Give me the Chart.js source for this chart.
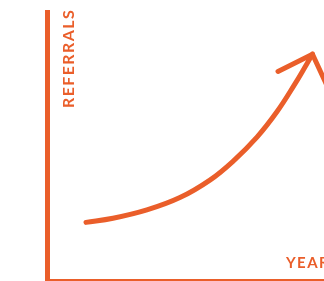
<!DOCTYPE html>
<html>
<head>
<meta charset="utf-8">
<script src="https://cdn.jsdelivr.net/npm/chart.js@4/dist/chart.umd.min.js"></script>
<style>
  html, body { margin: 0; padding: 0; background: #fff; overflow: hidden; }
  #wrap { position: relative; width: 348px; height: 288px; }
</style>
</head>
<body>
<div id="wrap"><canvas id="c"></canvas></div>
<script>
// Curva de crescimento (referrals x year) + ponta de seta
const anos = [13.0, 22.0, 33.3, 44.3, 54.3, 62.0, 70.0, 76.7, 82.5, 86.5, 88.5];
const referrals = [21.8, 23.3, 26.4, 31.0, 37.5, 44.5, 53.5, 63.0, 73.0, 80.5, 84.3];
const setaX = [77, 88.5, 94];
const setaY = [77.9, 84.3, 71.0];
const rotuloY = 'REFERRALS';
const rotuloX = 'YEAR';

const LARANJA = '#EA5E2A';

const pares = (xs, ys) => xs.map((x, i) => ({ x, y: ys[i] }));

const rotulos = {
  id: 'rotulos',
  afterDraw(chart) {
    const { ctx } = chart;
    ctx.save();
    ctx.fillStyle = LARANJA;
    ctx.letterSpacing = '1.4px';
    ctx.font = 'bold 16px Lato';
    ctx.textAlign = 'left';
    // eixo Y: texto girado, lido de baixo pra cima
    ctx.translate(74, 108);
    ctx.rotate(-Math.PI / 2);
    ctx.fillText(rotuloY, 0, 0);
    ctx.restore();

    ctx.save();
    ctx.fillStyle = LARANJA;
    ctx.letterSpacing = '1.4px';
    ctx.font = 'bold 15px Lato';
    ctx.textAlign = 'left';
    ctx.fillText(rotuloX, 286, 268);
    ctx.restore();
  },
};

new Chart(document.getElementById('c'), {
  type: 'line',
  data: {
    datasets: [
      { data: pares(anos, referrals), tension: 0.4 },
      { data: pares(setaX, setaY), tension: 0 },
    ],
  },
  options: {
    responsive: true, maintainAspectRatio: false, animation: false,
    layout: { autoPadding: false, padding: { left: 47, top: 12, right: 1, bottom: 7 } },
    elements: {
      line: { borderColor: LARANJA, borderWidth: 5, borderCapStyle: 'round', borderJoinStyle: 'round', fill: false },
      point: { radius: 0, hoverRadius: 0 },
    },
    plugins: { legend: { display: false }, tooltip: { enabled: false } },
    scales: {
      x: {
        type: 'linear', min: 0, max: 100,
        grid: { display: false, drawTicks: false },
        ticks: { display: false },
        border: { display: true, color: LARANJA, width: 5 },
      },
      y: {
        type: 'linear', min: 0, max: 100,
        grid: { display: false, drawTicks: false },
        ticks: { display: false },
        border: { display: true, color: LARANJA, width: 5 },
      },
    },
  },
  plugins: [rotulos],
});
</script>
</body>
</html>
